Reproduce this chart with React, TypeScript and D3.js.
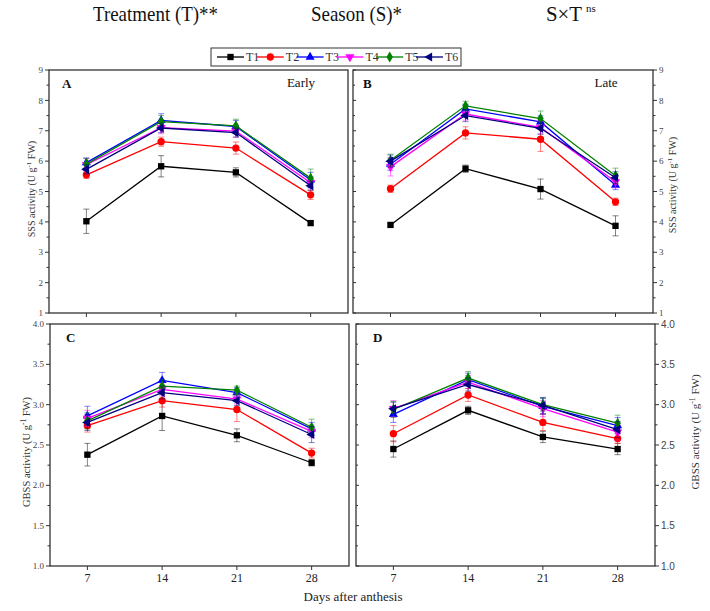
import React from "react";
import * as d3 from "d3";

const treatments = ["T1", "T2", "T3", "T4", "T5", "T6"];
const colors = ["#000000", "#ff0000", "#0000ff", "#ff00ff", "#008000", "#000080"];
const days = [7, 14, 21, 28];
const dayTicks = [7, 14, 21, 28];

const sssEarly = [
  [4.02, 5.83, 5.63, 3.96],
  [5.55, 6.64, 6.43, 4.89],
  [5.95, 7.34, 7.14, 5.38],
  [5.88, 7.1, 6.99, 5.29],
  [5.9, 7.3, 7.16, 5.44],
  [5.73, 7.09, 6.94, 5.19],
];
const sssEarlyErr = [
  [0.4, 0.35, 0.15, 0.08],
  [0.12, 0.15, 0.2, 0.15],
  [0.15, 0.22, 0.2, 0.25],
  [0.2, 0.2, 0.2, 0.2],
  [0.2, 0.2, 0.22, 0.3],
  [0.15, 0.15, 0.15, 0.15],
];
const sssLate = [
  [3.9, 5.75, 5.08, 3.87],
  [5.09, 6.93, 6.72, 4.66],
  [5.9, 7.72, 7.29, 5.21],
  [5.81, 7.55, 7.11, 5.32],
  [6.03, 7.82, 7.4, 5.52],
  [6.0, 7.5, 7.08, 5.45],
];
const sssLateErr = [
  [0.05, 0.12, 0.33, 0.33],
  [0.12, 0.2, 0.4, 0.12],
  [0.2, 0.15, 0.2, 0.15],
  [0.3, 0.2, 0.2, 0.2],
  [0.2, 0.15, 0.25, 0.25],
  [0.2, 0.2, 0.2, 0.2],
];
const gbssEarly = [
  [2.38, 2.86, 2.62, 2.28],
  [2.74, 3.05, 2.94, 2.4],
  [2.86, 3.3, 3.15, 2.7],
  [2.83, 3.19, 3.07, 2.67],
  [2.8, 3.23, 3.18, 2.72],
  [2.78, 3.15, 3.05, 2.63],
];
const gbssEarlyErr = [
  [0.14, 0.18, 0.08, 0.04],
  [0.08, 0.08, 0.15, 0.06],
  [0.12, 0.1, 0.06, 0.08],
  [0.1, 0.08, 0.06, 0.08],
  [0.1, 0.08, 0.05, 0.1],
  [0.1, 0.08, 0.06, 0.1],
];
const gbssLate = [
  [2.45, 2.93, 2.6, 2.45],
  [2.64, 3.12, 2.78, 2.58],
  [2.88, 3.31, 2.98, 2.74],
  [2.95, 3.28, 2.95, 2.66],
  [2.94, 3.33, 3.0, 2.77],
  [2.95, 3.25, 2.99, 2.69],
];
const gbssLateErr = [
  [0.1, 0.05, 0.07, 0.07],
  [0.1, 0.08, 0.1, 0.06],
  [0.1, 0.08, 0.1, 0.1],
  [0.1, 0.08, 0.1, 0.1],
  [0.1, 0.08, 0.08, 0.1],
  [0.08, 0.08, 0.1, 0.1],
];

const sssTicks = [1, 2, 3, 4, 5, 6, 7, 8, 9];
const gbssTicks = [1.0, 1.5, 2.0, 2.5, 3.0, 3.5, 4.0];

const SERIF = "'Liberation Serif', 'DejaVu Serif', serif";
const SANS = "'Liberation Sans', Arial, sans-serif";

function markerPath(i: number): { d: string; rot: number } {
  const types = [
    d3.symbolSquare,
    d3.symbolCircle,
    d3.symbolTriangle,
    d3.symbolTriangle,
    d3.symbolDiamond,
    d3.symbolTriangle,
  ];
  const sizes = [40, 42, 36, 36, 36, 36];
  const rots = [0, 0, 0, 180, 0, -90];
  return { d: d3.symbol().type(types[i]).size(sizes[i])() || "", rot: rots[i] };
}

type PanelProps = {
  left: number;
  right: number;
  top: number;
  bottom: number;
  domain: [number, number];
  ticks: number[];
  tickFmt: (v: number) => string;
  minorStep: number;
  side: "left" | "right";
  tag: string;
  tagDx: number;
  season?: string;
  means: number[][];
  errs: number[][];
  xLabels: boolean;
  yTitle: string;
  titleX: number;
  titleY: number;
  titleSize: number;
  tickFont: string;
  tickSize: number;
};

function Panel(p: PanelProps) {
  const x = d3.scaleLinear().domain([3.5, 31.5]).range([p.left, p.right]);
  const y = d3.scaleLinear().domain(p.domain).range([p.bottom, p.top]);
  const minors = d3.range(p.domain[0], p.domain[1] + 1e-9, p.minorStep).filter(
    (v) => !p.ticks.some((t) => Math.abs(t - v) < 1e-9)
  );
  const line = d3
    .line<number>()
    .x((_, i) => x(days[i]))
    .y((v) => y(v));
  const axisX = p.side === "left" ? p.left : p.right;
  const dir = p.side === "left" ? -1 : 1;
  const otherX = p.side === "left" ? p.right : p.left;
  const axis = "#333";
  return (
    <g>
      <rect
        x={p.left}
        y={p.top}
        width={p.right - p.left}
        height={p.bottom - p.top}
        fill="white"
        stroke={axis}
        strokeWidth={1.3}
      />
      {p.ticks.map((t) => (
        <g key={"t" + t}>
          <line x1={axisX} x2={axisX + dir * 4} y1={y(t)} y2={y(t)} stroke={axis} strokeWidth={1} />
          {p.side === "right" && (
            <line x1={otherX} x2={otherX + 3} y1={y(t)} y2={y(t)} stroke={axis} strokeWidth={1} />
          )}
          <text
            x={axisX + dir * 6}
            y={y(t)}
            dy="0.35em"
            textAnchor={p.side === "left" ? "end" : "start"}
            fontFamily={p.tickFont}
            fontSize={p.tickSize}
            fill="#444"
          >
            {p.tickFmt(t)}
          </text>
        </g>
      ))}
      {minors.map((t) => (
        <g key={"m" + t}>
          <line x1={axisX} x2={axisX + dir * 2.5} y1={y(t)} y2={y(t)} stroke={axis} strokeWidth={1} />
          {p.side === "right" && (
            <line x1={otherX} x2={otherX + 2} y1={y(t)} y2={y(t)} stroke={axis} strokeWidth={1} />
          )}
        </g>
      ))}
      {dayTicks.map((d) => (
        <g key={"x" + d}>
          <line x1={x(d)} x2={x(d)} y1={p.bottom} y2={p.bottom + 4} stroke={axis} strokeWidth={1} />
          {p.xLabels && (
            <text
              x={x(d)}
              y={p.bottom + 16}
              textAnchor="middle"
              fontFamily={SERIF}
              fontSize={12}
              fill="#222"
            >
              {d}
            </text>
          )}
        </g>
      ))}
      <text
        transform={`translate(${p.titleX},${p.titleY}) rotate(-90)`}
        textAnchor="middle"
        fontFamily={SERIF}
        fontSize={p.titleSize}
        fill="#333"
      >
        {p.yTitle}
        <tspan dy="-4" fontSize={p.titleSize * 0.7}>-1</tspan>
        <tspan dy="4"> FW)</tspan>
      </text>
      <text x={p.left + p.tagDx} y={p.top + 18} fontFamily={SERIF} fontWeight="bold" fontSize={13} fill="#111">
        {p.tag}
      </text>
      {p.season && (
        <text x={p.right - 47} y={p.top + 17} textAnchor="middle" fontFamily={SERIF} fontSize={13} fill="#111">
          {p.season}
        </text>
      )}
      {p.means.map((vals, si) => {
        const m = markerPath(si);
        return (
          <g key={"s" + si}>
            {vals.map((v, i) => {
              const e = p.errs[si][i];
              const cx = x(days[i]);
              return (
                <g key={"e" + i} stroke={colors[si]} strokeOpacity={0.55} strokeWidth={0.9}>
                  <line x1={cx} x2={cx} y1={y(v - e)} y2={y(v + e)} />
                  <line x1={cx - 3} x2={cx + 3} y1={y(v - e)} y2={y(v - e)} />
                  <line x1={cx - 3} x2={cx + 3} y1={y(v + e)} y2={y(v + e)} />
                </g>
              );
            })}
            <path d={line(vals) || ""} fill="none" stroke={colors[si]} strokeWidth={1.3} />
            {vals.map((v, i) => (
              <path
                key={"p" + i}
                d={m.d}
                transform={`translate(${x(days[i])},${y(v)}) rotate(${m.rot})`}
                fill={colors[si]}
              />
            ))}
          </g>
        );
      })}
    </g>
  );
}

function Legend() {
  const x0 = 211;
  const y0 = 48;
  return (
    <g>
      <rect x={x0} y={y0} width={250} height={18} fill="white" stroke="#333" strokeWidth={1} />
      {treatments.map((t, i) => {
        const tx = 246 + i * 39.8;
        const m = markerPath(i);
        const cy = y0 + 9;
        return (
          <g key={t}>
            <line x1={tx - 29} x2={tx - 2} y1={cy} y2={cy} stroke={colors[i]} strokeWidth={1.3} />
            <path d={m.d} transform={`translate(${tx - 15.5},${cy}) rotate(${m.rot})`} fill={colors[i]} />
            <text x={tx} y={cy} dy="0.35em" fontFamily={SERIF} fontSize={12} fill="#333">
              {t}
            </text>
          </g>
        );
      })}
    </g>
  );
}

export default function App() {
  const one = (v: number) => d3.format(".1f")(v);
  const int = (v: number) => d3.format("d")(v);
  return (
    <svg
      width={710}
      height={611}
      style={{ position: "absolute", left: 0, top: 0, background: "white" }}
    >
      <rect width={710} height={611} fill="white" />
      <text x={93} y={21} textLength={125} lengthAdjust="spacingAndGlyphs" fontFamily={SERIF} fontSize={22} fill="#111">
        Treatment (T)**
      </text>
      <text x={311} y={21} textLength={91} lengthAdjust="spacingAndGlyphs" fontFamily={SERIF} fontSize={22} fill="#111">
        Season (S)*
      </text>
      <text x={546} y={21} fontFamily={SERIF} fontSize={22} fill="#111">
        <tspan textLength={36} lengthAdjust="spacingAndGlyphs">S×T</tspan>
        <tspan dx="4" dy="-9" fontSize={11}>ns</tspan>
      </text>
      <Panel
        left={49}
        right={348}
        top={70}
        bottom={313}
        domain={[1, 9]}
        ticks={sssTicks}
        tickFmt={int}
        minorStep={0.5}
        side="left"
        tag="A"
        tagDx={13}
        season="Early"
        means={sssEarly}
        errs={sssEarlyErr}
        xLabels={false}
        yTitle="SSS activity (U g"
        titleX={35}
        titleY={189}
        titleSize={10}
        tickFont={SERIF}
        tickSize={9}
      />
      <Panel
        left={353}
        right={653}
        top={70}
        bottom={313}
        domain={[1, 9]}
        ticks={sssTicks}
        tickFmt={int}
        minorStep={0.5}
        side="right"
        tag="B"
        tagDx={10}
        season="Late"
        means={sssLate}
        errs={sssLateErr}
        xLabels={false}
        yTitle="SSS activity (U g"
        titleX={676}
        titleY={185}
        titleSize={10}
        tickFont={SERIF}
        tickSize={9}
      />
      <Panel
        left={50}
        right={349}
        top={324}
        bottom={566}
        domain={[1, 4]}
        ticks={gbssTicks}
        tickFmt={one}
        minorStep={0.25}
        side="left"
        tag="C"
        tagDx={16}
        means={gbssEarly}
        errs={gbssEarlyErr}
        xLabels={true}
        yTitle="GBSS activity (U g"
        titleX={30}
        titleY={452}
        titleSize={10.5}
        tickFont={SERIF}
        tickSize={9}
      />
      <Panel
        left={356}
        right={655}
        top={324}
        bottom={566}
        domain={[1, 4]}
        ticks={gbssTicks}
        tickFmt={one}
        minorStep={0.25}
        side="right"
        tag="D"
        tagDx={17}
        means={gbssLate}
        errs={gbssLateErr}
        xLabels={true}
        yTitle="GBSS activity (U g"
        titleX={699}
        titleY={432}
        titleSize={11}
        tickFont={SANS}
        tickSize={10}
      />
      <Legend />
      <text x={353} y={601} textAnchor="middle" fontFamily={SERIF} fontSize={13} fill="#222">
        Days after anthesis
      </text>
    </svg>
  );
}
